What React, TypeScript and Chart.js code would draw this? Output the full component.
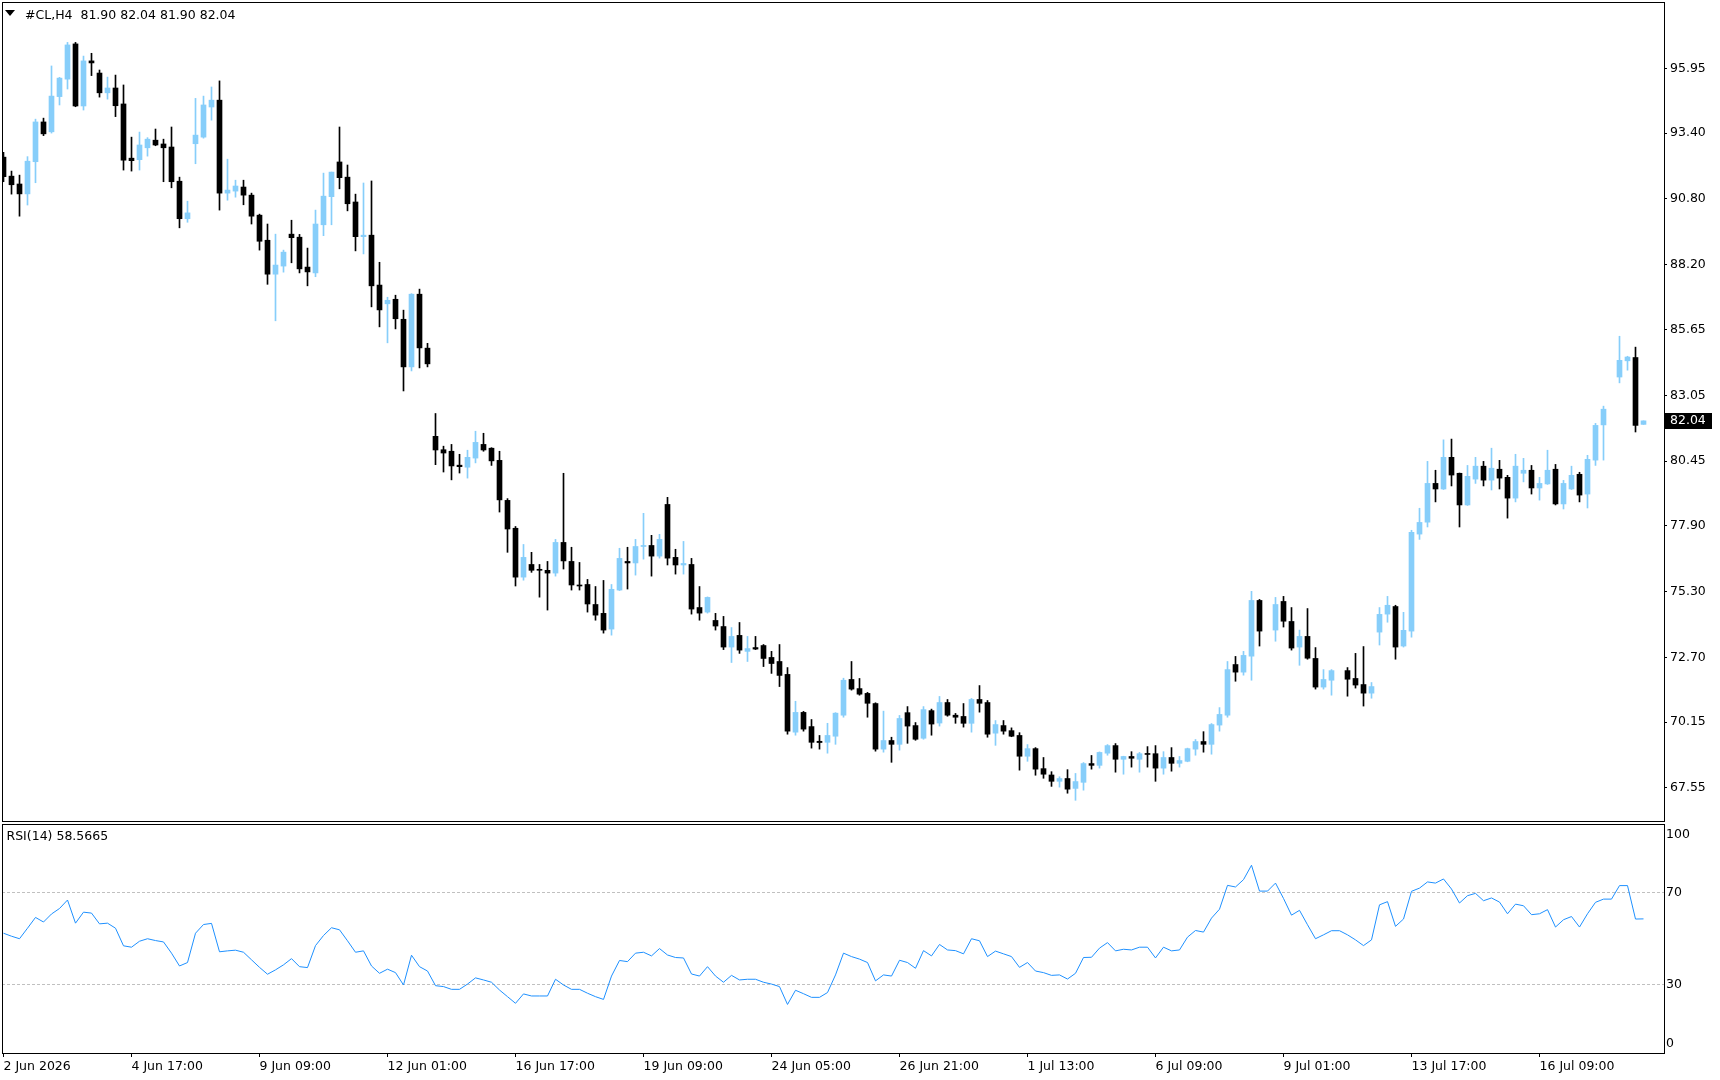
import React, { useEffect, useRef } from 'react';
import { Chart, registerables } from 'chart.js';

Chart.register(...registerables);

// ---------- DATA ----------
const symbol = '#CL,H4';

// H4 bars, index 0 = 2 Jun 2026 (null = bar not visible in the picture)
const opens: (number | null)[] = [
  92.45, 91.70, 91.39, 91.00, 92.27, 93.84, 93.45, 94.84, 95.53, 96.92,
  94.47, 96.25, 95.77, 94.99, 95.18, 94.55, 92.41, 92.35, 92.82, 93.12,
  92.97, 92.85, 91.50, 90.02, 92.98, 93.24, 94.43, 94.70, 91.03, 91.11,
  91.27, 90.95, 90.16, 89.17, 87.83, 88.15, 89.41, 89.29, 88.11, 87.88,
  89.78, 90.89, 92.26, 91.66, 90.68, 89.31, 89.37, 87.40, 86.66, 86.84,
  86.05, 84.17, 87.04, 84.91, 81.43, 80.90, 80.84, 80.29, 80.21, 80.57,
  81.11, 80.96, 80.48, 78.90, 77.80, 75.87, 76.37, 76.18, 76.14, 76.03,
  77.24, 76.49, 75.56, 75.58, 74.79, 74.44, 73.82, 75.36, 76.49, 76.43,
  77.08, 77.12, 76.70, 78.74, 76.65, 76.35, 76.37, 74.67, 74.49, 74.16,
  73.92, 73.11, 73.57, 72.94, 73.09, 73.17, 72.70, 72.54, 72.03, 69.75,
  70.53, 69.97, 69.39, 69.35, 69.59, 70.42, 71.83, 71.47, 71.28, 70.88,
  69.08, 69.42, 69.27, 70.52, 70.01, 69.51, 70.60, 70.11, 70.92, 70.42,
  70.37, 70.10, 71.04, 70.92, 69.71, 70.01, 69.81, 69.62, 68.80, 69.10,
  68.31, 68.06, 67.81, 67.92, 67.53, 67.77, 68.51, 68.44, 68.92, 69.22,
  68.68, 68.79, 68.68, 68.90, 68.90, 68.33, 68.75, 68.52, 68.60, 69.08,
  69.38, 69.27, 70.03, 70.42, 72.42, 72.12, 72.75, 74.95, null, 73.78,
  74.91, 74.12, 73.11, 73.53, 72.66, 71.53, 71.80, null, 72.18, 71.87,
  71.63, 71.29, 73.70, 74.41, 74.71, 73.15, 73.74, 77.57, 78.04, 79.57,
  79.35, 80.60, 79.97, 78.72, 79.74, 80.25, 79.70, 80.13, 79.81, 78.99,
  79.97, 80.09, 79.39, 79.55, 80.13, 78.76, 79.35, 79.93, 79.15, 80.49,
  81.88, null, 83.77, 84.41, 84.54, 81.90,
];

const highs: (number | null)[] = [
  92.64, 91.90, 91.74, 92.47, 93.95, 93.99, 96.05, 95.60, 96.98, 96.98,
  96.44, 96.55, 95.89, 95.61, 95.69, 95.30, 93.24, 93.44, 93.22, 93.56,
  93.16, 93.64, 91.66, 90.71, 94.77, 94.86, 95.22, 95.46, 92.37, 91.54,
  91.54, 91.03, 90.20, 89.81, 89.41, 88.78, 89.96, 89.40, 88.86, 90.36,
  91.82, 91.86, 93.64, 92.14, 90.99, 91.43, 91.51, 88.30, 86.92, 87.00,
  86.41, 87.06, 87.24, 85.10, 82.33, 81.04, 81.11, 80.72, 80.88, 81.63,
  81.55, 80.98, 80.84, 78.97, 77.87, 77.16, 76.85, 76.37, 76.49, 77.36,
  79.97, 77.05, 76.45, 75.78, 75.50, 75.74, 75.58, 77.01, 77.05, 77.36,
  78.39, 77.52, 77.56, 79.02, 76.97, 77.28, 76.61, 75.50, 75.09, 74.44,
  74.32, 73.88, 74.08, 73.53, 73.53, 73.21, 72.94, 73.21, 72.30, 70.97,
  70.57, 70.25, 69.62, 70.10, 70.52, 71.88, 72.54, 71.87, 71.32, 70.91,
  70.58, 69.55, 70.41, 70.76, 70.13, 70.76, 70.66, 71.16, 71.04, 70.49,
  70.88, 71.08, 71.59, 71.00, 70.21, 70.21, 69.92, 69.73, 69.26, 69.14,
  68.75, 68.19, 67.99, 68.27, 68.12, 68.55, 68.83, 68.97, 69.26, 69.30,
  68.80, 68.98, 68.95, 69.18, 69.22, 68.98, 69.14, 68.79, 69.12, 69.46,
  69.77, 70.09, 70.72, 72.54, 72.74, 72.94, 75.31, 74.99, null, 75.07,
  75.11, 74.67, 73.78, 74.63, 73.09, 72.22, 72.22, null, 72.30, 72.86,
  73.13, 71.71, 74.67, 75.11, 74.76, 74.48, 77.72, 78.59, 80.44, 80.09,
  81.29, 81.32, 79.98, 80.28, 80.60, 80.44, 80.96, 80.48, 79.89, 80.72,
  80.56, 80.28, 79.81, 80.88, 80.32, 79.69, 80.25, 80.01, 80.68, 81.94,
  82.62, null, 85.38, 84.59, 84.95, 82.04,
];

const lows: (number | null)[] = [
  91.48, 90.99, 90.12, 90.56, 91.44, 93.30, 93.40, 94.51, 95.14, 94.44,
  94.31, 95.67, 94.82, 94.74, 94.05, 91.94, 91.90, 91.94, 92.49, 92.90,
  91.48, 91.24, 89.66, 89.88, 92.19, 93.20, 93.91, 90.36, 90.75, 90.87,
  90.57, 89.81, 88.78, 87.43, 85.99, 87.91, 88.28, 87.88, 87.37, 87.73,
  89.35, 89.78, 91.20, 90.33, 88.75, 88.63, 86.54, 85.75, 85.12, 85.67,
  83.22, 84.01, 84.13, 84.17, 80.31, 80.02, 79.71, 79.98, 79.78, 80.38,
  80.84, 80.28, 78.44, 76.85, 75.52, 75.75, 76.06, 75.08, 74.57, 75.91,
  76.19, 75.36, 75.36, 74.49, 74.17, 73.66, 73.58, 75.34, 75.40, 75.95,
  76.58, 75.91, 76.62, 76.35, 75.99, 75.99, 74.41, 74.17, 74.45, 73.78,
  73.01, 72.50, 72.86, 72.54, 73.01, 72.34, 72.07, 71.55, 69.67, 69.63,
  69.79, 69.12, 69.08, 68.92, 69.27, 70.34, 71.41, 71.21, 70.34, 69.00,
  68.96, 68.56, 69.04, 69.31, 69.43, 69.47, 69.63, 69.99, 70.38, 70.10,
  69.95, 69.75, 70.54, 69.55, 69.23, 69.67, 69.57, 68.25, 68.60, 68.05,
  67.93, 67.61, 67.58, 67.34, 67.06, 67.46, 68.29, 68.33, 68.84, 68.17,
  68.09, 68.37, 68.17, 68.37, 67.81, 68.09, 68.21, 68.37, 68.58, 68.84,
  68.96, 68.88, 69.79, 70.34, 71.76, 72.00, 71.80, 73.15, null, 73.34,
  73.90, 72.99, 72.39, 72.63, 71.45, 71.45, 71.21, null, 71.17, 71.49,
  70.78, 71.09, 73.19, 74.09, 72.63, 73.11, 73.50, 77.36, 77.85, 78.84,
  79.33, 79.47, 77.85, 78.70, 79.57, 79.47, 79.31, 79.35, 78.20, 78.84,
  79.63, 79.15, 78.91, 79.53, 78.72, 78.56, 79.33, 78.84, 78.60, 80.28,
  80.49, null, 83.54, 84.04, 81.60, 81.90,
];

const closes: (number | null)[] = [
  91.68, 91.36, 91.00, 92.29, 93.84, 93.37, 94.86, 95.57, 96.88, 94.47,
  96.25, 96.17, 94.99, 95.18, 94.48, 92.33, 92.31, 92.93, 93.16, 92.93,
  92.82, 91.48, 90.02, 90.25, 93.32, 94.51, 94.70, 91.03, 91.15, 91.31,
  90.95, 90.12, 89.13, 87.83, 88.19, 88.70, 89.27, 88.04, 87.92, 89.81,
  90.91, 91.86, 91.64, 90.61, 89.31, 89.37, 87.37, 86.42, 86.80, 86.07,
  84.17, 87.04, 84.92, 84.29, 80.89, 80.77, 80.26, 80.23, 80.60, 81.19,
  80.89, 80.46, 78.92, 77.77, 75.87, 76.65, 76.14, 76.14, 76.03, 77.24,
  76.51, 75.56, 75.52, 74.81, 74.37, 73.78, 75.39, 76.61, 76.43, 77.08,
  77.12, 76.70, 77.36, 76.62, 76.35, 76.41, 74.61, 74.45, 75.07, 73.94,
  73.11, 73.53, 72.99, 73.05, 73.03, 72.66, 72.46, 71.99, 69.79, 70.53,
  69.87, 69.35, 69.34, 69.62, 70.50, 71.80, 71.45, 71.25, 70.89, 69.08,
  69.42, 69.27, 70.29, 69.99, 69.47, 70.64, 70.07, 70.92, 70.42, 70.34,
  70.10, 71.04, 70.89, 69.67, 70.05, 69.79, 69.59, 68.80, 69.10, 68.29,
  68.09, 67.81, 67.92, 67.50, 67.80, 68.51, 68.44, 68.95, 69.22, 68.68,
  68.79, 68.72, 68.90, 68.87, 68.33, 68.75, 68.52, 68.63, 69.10, 69.38,
  69.27, 70.05, 70.45, 72.22, 72.12, 72.78, 74.95, 73.74, null, 74.79,
  74.13, 73.07, 73.53, 72.67, 71.53, 71.83, 72.18, null, 71.84, 71.61,
  71.29, 71.55, 74.40, 74.76, 73.11, 73.77, 77.64, 78.03, 79.57, 79.35,
  80.60, 79.90, 78.72, 79.85, 80.25, 79.70, 80.17, 79.78, 78.99, 80.25,
  80.09, 79.39, 79.57, 80.09, 78.76, 79.57, 79.89, 79.11, 80.52, 81.86,
  82.50, null, 84.43, 84.56, 81.86, 82.04,
];

const rsiValues: number[] = [
  52.3, 51.0, 49.9, 54.5, 59.2, 57.2, 60.7, 63.1, 66.8, 56.7,
  61.5, 61.1, 56.4, 56.7, 54.5, 46.8, 46.2, 48.8, 49.9, 49.1,
  48.5, 43.6, 38.0, 39.5, 52.3, 56.1, 56.6, 44.2, 44.6, 44.9,
  44.0, 40.7, 37.4, 34.4, 36.3, 38.5, 41.2, 37.7, 37.3, 46.9,
  51.3, 54.7, 53.8, 49.0, 44.0, 44.6, 38.0, 34.8, 36.6, 35.1,
  29.7, 42.7, 37.7, 35.8, 29.4, 29.0, 27.8, 27.8, 30.1, 32.8,
  31.9, 30.9, 27.5, 24.6, 21.7, 25.8, 24.9, 24.9, 24.9, 32.2,
  29.7, 27.8, 27.8, 26.1, 24.6, 23.4, 33.6, 40.4, 39.9, 43.6,
  44.0, 42.4, 45.6, 42.8, 41.7, 41.5, 34.5, 33.6, 37.7, 33.6,
  30.9, 33.9, 31.9, 32.2, 32.2, 30.9, 30.1, 29.0, 21.2, 27.4,
  25.9, 24.3, 24.3, 26.4, 34.1, 43.6, 42.1, 41.0, 39.5, 31.5,
  34.1, 33.6, 40.5, 39.5, 37.0, 44.7, 42.4, 47.4, 45.0, 44.7,
  43.3, 49.9, 49.0, 42.1, 44.5, 43.3, 42.1, 37.4, 39.5, 35.8,
  35.1, 33.9, 34.1, 32.3, 34.8, 41.7, 41.8, 45.8, 48.2, 44.6,
  45.3, 45.0, 46.2, 46.2, 41.5, 46.2, 44.6, 45.0, 50.6, 53.5,
  52.8, 58.9, 62.8, 73.2, 72.5, 75.7, 82.0, 70.7, 70.7, 74.2,
  67.5, 60.2, 62.3, 56.0, 49.9, 51.6, 53.4, 53.4, 51.6, 49.4,
  46.9, 49.4, 64.7, 66.1, 55.3, 58.5, 70.6, 72.0, 74.7, 74.2,
  76.0, 71.6, 65.5, 68.7, 69.7, 66.5, 67.7, 65.9, 60.8, 65.0,
  64.3, 60.4, 60.8, 62.6, 55.0, 58.2, 59.6, 55.0, 60.8, 65.8,
  67.2, 67.2, 73.1, 73.1, 58.5, 58.5665,
];

const timeLabels = [
  '2 Jun 2026', '4 Jun 17:00', '9 Jun 09:00', '12 Jun 01:00', '16 Jun 17:00',
  '19 Jun 09:00', '24 Jun 05:00', '26 Jun 21:00', '1 Jul 13:00', '6 Jul 09:00',
  '9 Jul 01:00', '13 Jul 17:00', '16 Jul 09:00',
];
const barsPerLabel = 16;

const priceTicks = [95.95, 93.40, 90.80, 88.20, 85.65, 83.05, 80.45, 77.90, 75.30, 72.70, 70.15, 67.55];
const rsiTickValues = [0, 30, 70, 100];
const rsiTickLabels = ['0', '30', '70', '100'];
const rsiLevels = [30, 70];
const rsiPeriod = 14;

// ---------- STYLE ----------
const BULL = '#87CEFA';
const BEAR = '#000000';
const RSI_COLOR = '#1E90FF';
const FONT = "'DejaVu Sans'";
const FONT_SIZE = 12.5;

const X_MIN = -0.1875;
const X_MAX = 207.5625;

const framePlugin = {
  id: 'frame',
  afterDraw(chart: any) {
    const { ctx, chartArea } = chart;
    ctx.save();
    ctx.strokeStyle = '#000';
    ctx.lineWidth = 1;
    ctx.strokeRect(
      chartArea.left + 0.5,
      chartArea.top + 0.5,
      chartArea.right - chartArea.left,
      chartArea.bottom - chartArea.top
    );
    ctx.restore();
  },
};

function lastIndex() {
  let k = closes.length - 1;
  while (k >= 0 && closes[k] == null) k--;
  return k;
}

const lastPricePlugin = {
  id: 'lastPrice',
  afterDraw(chart: any) {
    const k = lastIndex();
    const v = closes[k] as number;
    const y = chart.scales.y.getPixelForValue(v);
    const { ctx, chartArea } = chart;
    ctx.save();
    ctx.fillStyle = '#000';
    ctx.fillRect(chartArea.right + 1, Math.round(y) - 8, 47, 16);
    ctx.fillStyle = '#fff';
    ctx.font = `${FONT_SIZE}px ${FONT}`;
    ctx.textBaseline = 'middle';
    ctx.textAlign = 'left';
    ctx.fillText(v.toFixed(2), chartArea.right + 6, y);
    ctx.restore();
  },
};

const fixedXRange = (s: any) => {
  s.min = X_MIN;
  s.max = X_MAX;
};

export default function App() {
  const priceRef = useRef<HTMLCanvasElement>(null);
  const rsiRef = useRef<HTMLCanvasElement>(null);

  useEffect(() => {
    Chart.defaults.font.family = FONT;
    Chart.defaults.font.size = FONT_SIZE;
    Chart.defaults.color = '#000';

    const bodies: any[] = [];
    const wicks: any[] = [];
    const colors: string[] = [];
    for (let i = 0; i < opens.length; i++) {
      const o = opens[i], h = highs[i], l = lows[i], c = closes[i];
      if (o == null || h == null || l == null || c == null) continue;
      bodies.push({ x: i, y: [o, c] });
      wicks.push({ x: i, y: [l, h] });
      colors.push(c >= o ? BULL : BEAR);
    }

    const priceChart = new Chart(priceRef.current as HTMLCanvasElement, {
      type: 'bar',
      data: {
        datasets: [
          {
            data: bodies,
            backgroundColor: colors,
            borderWidth: 0,
            barThickness: 5,
            minBarLength: 1,
            grouped: false,
            order: 0,
          } as any,
          {
            data: wicks,
            backgroundColor: colors,
            borderWidth: 0,
            barThickness: 1,
            minBarLength: 1,
            grouped: false,
            order: 1,
          } as any,
        ],
      },
      options: {
        animation: false,
        responsive: false,
        devicePixelRatio: 1,
        events: [],
        layout: { padding: { left: 2, top: 2, right: 0, bottom: 1 } },
        plugins: { legend: { display: false }, tooltip: { enabled: false } },
        scales: {
          x: {
            type: 'linear',
            min: X_MIN,
            max: X_MAX,
            offset: false,
            bounds: 'data',
            display: false,
            grid: { offset: false },
            afterDataLimits: fixedXRange,
            afterBuildTicks: (s: any) => {
              s.ticks = [{ value: X_MIN }, { value: X_MAX }];
              fixedXRange(s);
            },
          },
          y: {
            type: 'linear',
            position: 'right',
            min: 66.243,
            max: 98.575,
            beginAtZero: false,
            bounds: 'data',
            afterBuildTicks: (s: any) => {
              s.ticks = priceTicks.map((v) => ({ value: v }));
              s.min = 66.243;
              s.max = 98.575;
            },
            afterFit: (s: any) => {
              s.width = 56;
              s.paddingTop = 0;
              s.paddingBottom = 0;
            },
            ticks: {
              autoSkip: false,
              padding: 3,
              color: '#000',
              font: { family: FONT, size: FONT_SIZE },
              callback: (v: any) => Number(v).toFixed(2),
            },
            grid: { drawOnChartArea: false, drawTicks: true, tickLength: 3, color: '#000' },
            border: { display: false },
          },
        },
      } as any,
      plugins: [framePlugin, lastPricePlugin],
    });

    const rsiChart = new Chart(rsiRef.current as HTMLCanvasElement, {
      type: 'line',
      data: {
        datasets: [
          {
            data: rsiValues.map((v, i) => ({ x: i, y: v })),
            borderColor: RSI_COLOR,
            borderWidth: 1,
            pointRadius: 0,
            tension: 0,
            fill: false,
          },
        ],
      },
      options: {
        animation: false,
        responsive: false,
        devicePixelRatio: 1,
        events: [],
        layout: { padding: { left: 2, top: 2, right: 0, bottom: 0 } },
        plugins: { legend: { display: false }, tooltip: { enabled: false } },
        scales: {
          x: {
            type: 'linear',
            position: 'bottom',
            min: X_MIN,
            max: X_MAX,
            offset: false,
            bounds: 'data',
            afterDataLimits: fixedXRange,
            afterBuildTicks: (s: any) => {
              s.ticks = timeLabels.map((_, k) => ({ value: k * barsPerLabel }));
              fixedXRange(s);
            },
            afterFit: (s: any) => {
              s.height = 27;
              s.paddingLeft = 0;
              s.paddingRight = 0;
            },
            ticks: {
              autoSkip: false,
              maxRotation: 0,
              minRotation: 0,
              align: 'start',
              padding: 2,
              color: '#000',
              font: { family: FONT, size: FONT_SIZE },
              callback: (_v: any, idx: number) => timeLabels[idx],
            },
            grid: { drawOnChartArea: false, drawTicks: true, tickLength: 4, color: '#000' },
            border: { display: false },
          },
          y: {
            type: 'linear',
            position: 'right',
            min: 0,
            max: 100,
            afterBuildTicks: (s: any) => {
              // edge labels are nudged inside the pane, as the terminal does
              s.ticks = rsiTickValues.map((v) => ({
                value: v === 100 ? 95.5 : v === 0 ? 3.9 : v,
              }));
              s.min = 0;
              s.max = 100;
            },
            afterFit: (s: any) => {
              s.width = 56;
              s.paddingTop = 0;
              s.paddingBottom = 0;
            },
            ticks: {
              autoSkip: false,
              padding: 2,
              color: '#000',
              font: { family: FONT, size: FONT_SIZE },
              callback: (_v: any, idx: number) => rsiTickLabels[idx],
            },
            grid: {
              drawOnChartArea: true,
              drawTicks: false,
              lineWidth: 1,
              color: (ctx: any) =>
                ctx.tick && rsiLevels.includes(ctx.tick.value) ? '#C0C0C0' : 'rgba(0,0,0,0)',
            },
            border: { display: false, dash: [3, 2] },
          },
        },
      } as any,
      plugins: [framePlugin],
    });

    return () => {
      priceChart.destroy();
      rsiChart.destroy();
    };
  }, []);

  const k = lastIndex();
  const header = `${symbol}  ${(opens[k] as number).toFixed(2)} ${(highs[k] as number).toFixed(2)} ${(lows[k] as number).toFixed(2)} ${(closes[k] as number).toFixed(2)}`;
  const rsiLabel = `RSI(${rsiPeriod}) ${rsiValues[rsiValues.length - 1].toFixed(4)}`;

  const textStyle: React.CSSProperties = {
    position: 'absolute',
    fontFamily: FONT,
    fontSize: `${FONT_SIZE}px`,
    lineHeight: '15px',
    color: '#000',
    whiteSpace: 'pre',
    zIndex: 2,
  };

  return (
    <div
      style={{
        position: 'absolute',
        left: 0,
        top: 0,
        width: 1720,
        height: 1080,
        background: '#fff',
        overflow: 'hidden',
      }}
    >
      <canvas ref={priceRef} width={1720} height={822} style={{ position: 'absolute', left: 0, top: 0 }} />
      <canvas ref={rsiRef} width={1720} height={258} style={{ position: 'absolute', left: 0, top: 822 }} />
      <div
        style={{
          position: 'absolute',
          left: 5,
          top: 10,
          width: 0,
          height: 0,
          borderLeft: '5.5px solid transparent',
          borderRight: '5.5px solid transparent',
          borderTop: '6px solid #000',
          zIndex: 2,
        }}
      />
      <div style={{ ...textStyle, left: 25, top: 6.5 }}>{header}</div>
      <div style={{ ...textStyle, left: 6.5, top: 828 }}>{rsiLabel}</div>
    </div>
  );
}
